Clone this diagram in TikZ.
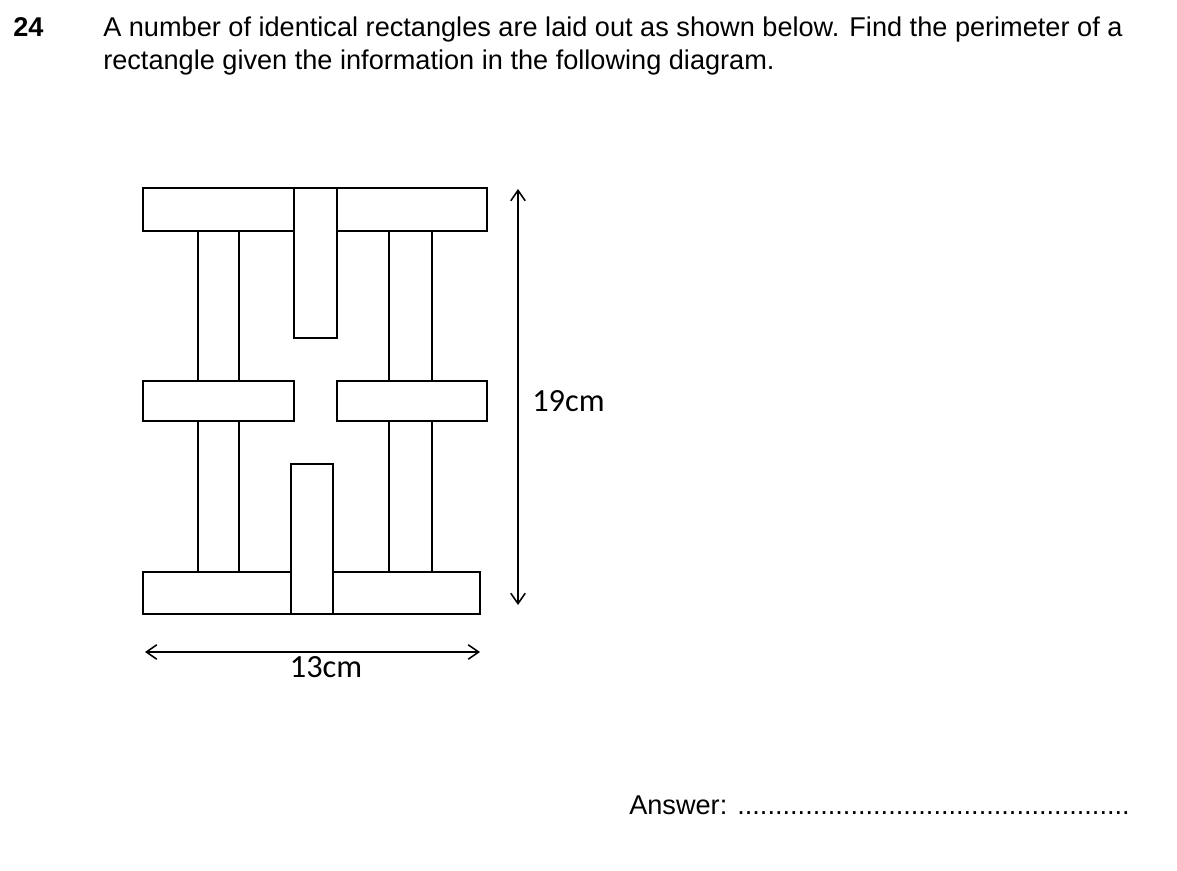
\documentclass[tikz,border=0pt]{standalone}
\usepackage{fontspec}
\setmainfont{Liberation Sans}
\newfontfamily\labelfont{Carlito}
\usetikzlibrary{arrows.meta}

\tikzset{
  piece/.style={draw=black, line width=1.3pt, fill=white},
  dimline/.style={draw=black, line width=1.1pt, {Straight Barb[length=2.6mm,width=3.6mm]}-{Straight Barb[length=2.6mm,width=3.6mm]}},
  qtext/.style={font=\fontsize{19.3}{23}\selectfont, anchor=base west, inner sep=0pt},
  dimlabel/.style={font=\labelfont\fontsize{23}{27}\selectfont, inner sep=0pt}
}

\begin{document}
\begin{tikzpicture}[x=0.025cm, y=-0.025cm]
  \useasboundingbox (0,0) rectangle (1177,870);

  % Question
  \node[qtext, font=\fontsize{19.3}{23}\selectfont\bfseries] (qnum) at (13,36) {24};
  \node[qtext] (qline1) at (103,36) {A number of identical rectangles are laid out as shown below. Find the perimeter of a};
  \node[qtext] (qline2) at (103,69) {rectangle given the information in the following diagram.};

  % Top row
  \draw[piece] (143,188) rectangle (294,231);
  \draw[piece] (337,188) rectangle (487,231);
  \draw[piece] (294,188) rectangle (337,338);

  % Upper uprights
  \draw[piece] (198,231) rectangle (239,381);
  \draw[piece] (389,231) rectangle (432,381);

  % Middle row
  \draw[piece] (143,381) rectangle (294,421);
  \draw[piece] (337,381) rectangle (487,421);

  % Lower uprights
  \draw[piece] (198,421) rectangle (239,572);
  \draw[piece] (389,421) rectangle (432,572);

  % Bottom row
  \draw[piece] (143,572) rectangle (291,614);
  \draw[piece] (333,572) rectangle (480,614);
  \draw[piece] (291,464) rectangle (333,614);

  % Dimensions
  \coordinate (hTop) at (518,189);
  \coordinate (hBot) at (518,605);
  \draw[dimline] (hTop) -- (hBot);
  \node[dimlabel, anchor=west] (hLabel) at (532,401) {19cm};

  \coordinate (wLeft) at (145,652);
  \coordinate (wRight) at (480,652);
  \draw[dimline] (wLeft) -- (wRight);
  \node[dimlabel] (wLabel) at (326,667) {13cm};

  % Answer line
  \node[qtext] (answer) at (629,814) {Answer: ....................................................};
\end{tikzpicture}
\end{document}
